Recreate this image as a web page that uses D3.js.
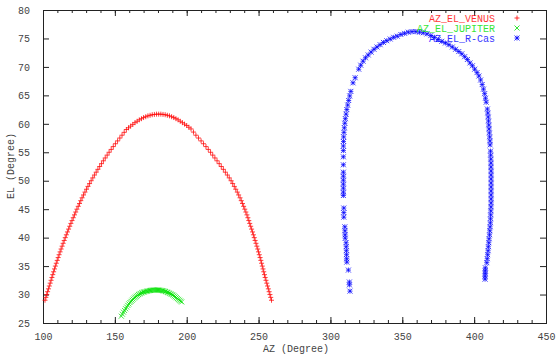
<!DOCTYPE html>
<html lang="en">
<head>
    <meta charset="UTF-8">
    <title>AZ / EL tracks</title>
    <script src="https://d3js.org/d3.v7.min.js"></script>
    <style>
        * { margin: 0; padding: 0; }
        body { background: #fff; }
        text { font-family: "Liberation Mono", "DejaVu Sans Mono", monospace; font-size: 10px; }
    </style>
</head>
<body>
<script>
    var width = 558, height = 363;
    var plotLeft = 43, plotRight = 546, plotTop = 10, plotBottom = 323;

    // tick values
    var xTicks = [100, 150, 200, 250, 300, 350, 400, 450];
    var yTicks = [25, 30, 35, 40, 45, 50, 55, 60, 65, 70, 75, 80];

    // AZ_EL_VENUS
    var venusAz = [101.4, 102.0, 102.6, 103.2, 103.8, 104.4, 105.0, 105.6, 106.2, 106.8, 107.4, 108.0, 108.6, 109.25, 109.9,
        110.55, 111.2, 111.9, 112.6, 113.3, 114.0, 114.75, 115.5, 116.25, 117.0, 117.8, 118.6, 119.4, 120.2, 121.05,
        121.9, 122.75, 123.6, 124.5, 125.4, 126.3, 127.2, 128.2, 129.2, 130.25, 131.3, 132.4, 133.5, 134.65, 135.8,
        137.0, 138.2, 139.45, 140.7, 142.0, 143.3, 144.65, 146.0, 147.45, 148.9, 150.4, 151.9, 153.45, 155.0,
        156.5, 158, 159.5, 161, 162.5, 164, 165.5, 167, 168.5, 170, 171.5, 173, 174.5, 176, 177.5, 179,
        180.5, 182, 183.5, 185, 186.5, 188, 189.5, 191, 192.5, 194, 195.5, 197, 198.5, 200, 201.5, 203, 204.7, 206.4,
        208.2, 210.0, 211.7, 213.4, 215.0, 216.6, 218.1, 219.6, 221.1, 222.6, 224.05, 225.5, 226.9, 228.3, 229.6,
        230.9, 232.0, 233.1, 234.15, 235.2, 236.15, 237.1, 237.95, 238.8, 239.6, 240.4, 241.15, 241.9, 242.55, 243.2,
        243.85, 244.5, 245.15, 245.8, 246.4, 247.0, 247.6, 248.2, 248.8, 249.4, 249.95, 250.5, 251.05, 251.6, 252.1,
        252.6, 253.1, 253.6, 254.1, 254.6, 255.15, 255.7, 256.25, 256.8, 257.35, 257.9, 258.45, 259.0];
    var venusEl = [29.0, 29.5, 30, 30.5, 31, 31.5, 32, 32.5, 33, 33.5, 34, 34.5, 35, 35.5, 36,
        36.5, 37, 37.5, 38, 38.5, 39, 39.5, 40, 40.5, 41, 41.5, 42, 42.5, 43, 43.5,
        44, 44.5, 45, 45.5, 46, 46.5, 47, 47.5, 48, 48.5, 49, 49.5, 50, 50.5, 51,
        51.5, 52, 52.5, 53, 53.5, 54, 54.5, 55, 55.5, 56, 56.5, 57, 57.5, 58,
        58.5, 59.0, 59.3, 59.6, 59.9, 60.2, 60.45, 60.7, 60.9, 61.1, 61.25, 61.4, 61.5, 61.6, 61.65, 61.7,
        61.7, 61.7, 61.65, 61.6, 61.5, 61.4, 61.25, 61.1, 60.9, 60.7, 60.45, 60.2, 59.95, 59.7, 59.4, 59.1, 58.55, 58.0,
        57.5, 57, 56.5, 56, 55.5, 55, 54.5, 54, 53.5, 53, 52.5, 52, 51.5, 51, 50.5,
        50, 49.5, 49, 48.5, 48, 47.5, 47, 46.5, 46, 45.5, 45, 44.5, 44, 43.5, 43,
        42.5, 42, 41.5, 41, 40.5, 40, 39.5, 39, 38.5, 38, 37.5, 37, 36.5, 36, 35.5,
        35, 34.5, 34, 33.5, 33, 32.5, 32, 31.5, 31, 30.5, 30, 29.5, 29];

    // AZ_EL_JUPITER
    var jupiterAz = [154.5, 155.25, 156, 156.75, 157.5, 158.25, 159, 159.75, 160.5, 161.25, 162, 162.75, 163.5, 164.25, 165,
        165.75, 166.5, 167.25, 168, 168.75, 169.5, 170.25, 171, 171.75, 172.5, 173.25, 174, 174.75, 175.5, 176.25,
        177, 177.75, 178.5, 179.25, 180, 180.75, 181.5, 182.25, 183, 183.75, 184.5, 185.25, 186, 186.75, 187.5,
        188.25, 189, 189.75, 190.5, 191.25, 192, 192.75, 193.5, 194.25, 195, 195.75, 196.5];
    var jupiterEl = [26.2, 26.55, 26.9, 27.2, 27.5, 27.8, 28.1, 28.35, 28.6, 28.8, 29.0, 29.2, 29.4, 29.55, 29.7,
        29.85, 30.0, 30.1, 30.2, 30.3, 30.4, 30.45, 30.5, 30.55, 30.6, 30.65, 30.7, 30.72, 30.75, 30.78,
        30.8, 30.8, 30.8, 30.8, 30.8, 30.78, 30.75, 30.72, 30.7, 30.65, 30.6, 30.53, 30.45, 30.38, 30.3,
        30.2, 30.1, 30.0, 29.9, 29.75, 29.6, 29.45, 29.3, 29.15, 29.0, 28.85, 28.7];

    // AZ_EL_R-Cas
    var rcasAz = [407.6, 407.6, 407.7, 407.7, 407.8, 408.8, 409.1, 409.4, 409.7, 409.9, 410.2, 410.4, 410.7, 410.9, 411.1,
        411.3, 411.4, 411.5, 411.6, 411.7, 411.8, 411.8, 411.8, 411.8, 411.8, 411.8, 411.8, 411.8, 411.8, 411.7,
        411.7, 411.6, 411.5, 411.4, 411.1, 411.0, 410.8, 410.6, 410.4, 410.2, 410.0, 409.8, 409.5, 409.2, 408.4,
        407.9, 407.3, 406.5, 405.6, 404.5, 403.3, 402.0, 400.4, 398.8, 397.1, 395.3, 393.4, 391.4, 389.3, 387.1,
        384.8, 382.4, 380.0, 377.5, 375.0, 372.4, 369.8, 367.2, 364.6, 362.0, 359.4, 356.8, 354.2, 351.6, 349.0,
        346.5, 344.0, 341.6, 339.2, 336.9, 334.6, 332.4, 330.3, 328.3, 326.3, 324.4, 322.7, 321.1, 319.7, 317.2,
        315.7, 314.2, 313.4, 312.7, 312.0, 311.4, 310.9, 310.4, 310.0, 309.7, 309.4, 309.2, 309.1, 309.0, 309.0,
        309.0, 309.0, 309.0, 309.0, 309.0, 309.0, 309.0, 309.0, 309.0, 309.3, 309.3, 309.3, 310.0, 310.1, 310.2,
        310.3, 310.9, 311.0, 311.1, 311.2, 311.3, 311.4, 312.5, 313.2, 313.2, 313.6];
    var rcasEl = [32.7, 33.2, 33.7, 34.2, 34.7, 35.6, 36.3, 37.0, 37.7, 38.4, 39.1, 39.8, 40.5, 41.2, 41.9,
        42.6, 43.3, 44.0, 44.7, 45.4, 46.1, 46.8, 47.5, 48.2, 48.9, 49.6, 50.3, 51.0, 51.7, 52.4,
        53.1, 53.8, 54.5, 55.2, 56.3, 57.0, 57.7, 58.4, 59.1, 59.8, 60.5, 61.2, 61.9, 62.6, 63.8,
        64.5, 65.3, 66.1, 66.9, 67.7, 68.4, 69.0, 69.6, 70.2, 70.7, 71.3, 71.8, 72.3, 72.7, 73.1,
        73.5, 73.9, 74.2, 74.5, 74.8, 75.2, 75.5, 75.8, 76.0, 76.1, 76.2, 76.2, 76.1, 75.9, 75.7,
        75.4, 75.2, 74.9, 74.6, 74.3, 73.9, 73.5, 73.1, 72.6, 72.1, 71.6, 71.0, 70.3, 69.6, 68.1,
        67.2, 65.7, 64.9, 64.1, 63.3, 62.5, 61.7, 60.9, 60.1, 59.3, 58.5, 57.7, 56.9, 56.1, 55.3,
        54.2, 52.8, 51.5, 50.8, 50.1, 49.4, 48.7, 48.0, 47.4, 45.2, 44.4, 43.6, 41.9, 41.2, 40.5,
        39.9, 39.1, 38.4, 37.7, 37.0, 36.3, 35.7, 34.3, 32.2, 31.7, 30.6];

    var seriesNames = ['AZ_EL_VENUS', 'AZ_EL_JUPITER', 'AZ_EL_R-Cas'];
    var seriesColors = ['#ff0000', '#00e000', '#0000ff'];
    var seriesShapes = ['plus', 'cross', 'star'];

    var series = [
        { az: venusAz, el: venusEl },
        { az: jupiterAz, el: jupiterEl },
        { az: rcasAz, el: rcasEl }
    ];

    var svg = d3.select('body')
        .append('svg')
        .attr('width', width)
        .attr('height', height);

    var xScale = d3.scaleLinear().domain([100, 450]).range([plotLeft, plotRight]);
    var yScale = d3.scaleLinear().domain([25, 80]).range([plotBottom, plotTop]);

    // minor ticks on x every 10
    var xMinor = d3.range(100, 451, 10);

    function drawX(y, orient) {
        var ax = orient === 'bottom' ? d3.axisBottom(xScale) : d3.axisTop(xScale);
        svg.append('g')
            .attr('transform', 'translate(0,' + y + ')')
            .call(ax.tickValues(xMinor).tickSize(-3).tickFormat(''))
            .call(function (g) { g.select('.domain').remove(); });
        var ax2 = orient === 'bottom' ? d3.axisBottom(xScale) : d3.axisTop(xScale);
        svg.append('g')
            .attr('transform', 'translate(0,' + y + ')')
            .call(ax2.tickValues(xTicks).tickSize(-6).tickPadding(10)
                .tickFormat(orient === 'bottom' ? d3.format('d') : ''))
            .call(function (g) { g.select('.domain').remove(); });
    }
    drawX(plotBottom, 'bottom');
    drawX(plotTop, 'top');

    svg.append('g')
        .attr('transform', 'translate(' + plotLeft + ',0)')
        .call(d3.axisLeft(yScale).tickValues(yTicks).tickSize(-6).tickPadding(13).tickFormat(d3.format('d')))
        .call(function (g) { g.select('.domain').remove(); });
    svg.append('g')
        .attr('transform', 'translate(' + plotRight + ',0)')
        .call(d3.axisRight(yScale).tickValues(yTicks).tickSize(-6).tickFormat(''))
        .call(function (g) { g.select('.domain').remove(); });

    svg.selectAll('.tick line').attr('stroke', '#222');
    svg.selectAll('.tick text')
        .attr('fill', '#444')
        .style('font-family', '"Liberation Mono", monospace')
        .style('font-size', '10px');

    // frame
    svg.append('rect')
        .attr('x', plotLeft + 0.5)
        .attr('y', plotTop + 0.5)
        .attr('width', plotRight - plotLeft)
        .attr('height', plotBottom - plotTop)
        .attr('fill', 'none')
        .attr('stroke', '#222');

    // axis titles
    svg.append('text')
        .attr('x', 296)
        .attr('y', 352)
        .attr('text-anchor', 'middle')
        .attr('fill', '#444')
        .text('AZ (Degree)');
    svg.append('text')
        .attr('transform', 'translate(14,166) rotate(-90)')
        .attr('text-anchor', 'middle')
        .attr('fill', '#444')
        .text('EL (Degree)');

    function markerPath(shape, s) {
        var p = '';
        if (shape === 'plus' || shape === 'star') {
            p += 'M' + (-s) + ',0H' + s + 'M0,' + (-s) + 'V' + s;
        }
        if (shape === 'cross' || shape === 'star') {
            p += 'M' + (-s) + ',' + (-s) + 'L' + s + ',' + s + 'M' + (-s) + ',' + s + 'L' + s + ',' + (-s);
        }
        return p;
    }

    var sizes = [2.5, 2.5, 2.5];

    series.forEach(function (s, k) {
        var pts = s.az.map(function (a, i) { return [a, s.el[i]]; });
        svg.append('g')
            .selectAll('path')
            .data(pts)
            .enter()
            .append('path')
            .attr('transform', function (d) { return 'translate(' + xScale(d[0]) + ',' + yScale(d[1]) + ')'; })
            .attr('d', markerPath(seriesShapes[k], sizes[k]))
            .attr('stroke', seriesColors[k])
            .attr('stroke-width', 1)
            .attr('fill', 'none')
            .attr('opacity', 0.75);
    });

    // legend
    var legend = svg.append('g');
    seriesNames.forEach(function (name, k) {
        var y = 18 + k * 10;
        legend.append('text')
            .attr('x', 495)
            .attr('y', y + 3.5)
            .attr('text-anchor', 'end')
            .attr('fill', seriesColors[k])
            .attr('opacity', 0.8)
            .text(name);
        legend.append('path')
            .attr('transform', 'translate(517,' + y + ')')
            .attr('d', markerPath(seriesShapes[k], 2.5))
            .attr('stroke', seriesColors[k])
            .attr('fill', 'none')
            .attr('opacity', 0.8);
    });
</script>
</body>
</html>
